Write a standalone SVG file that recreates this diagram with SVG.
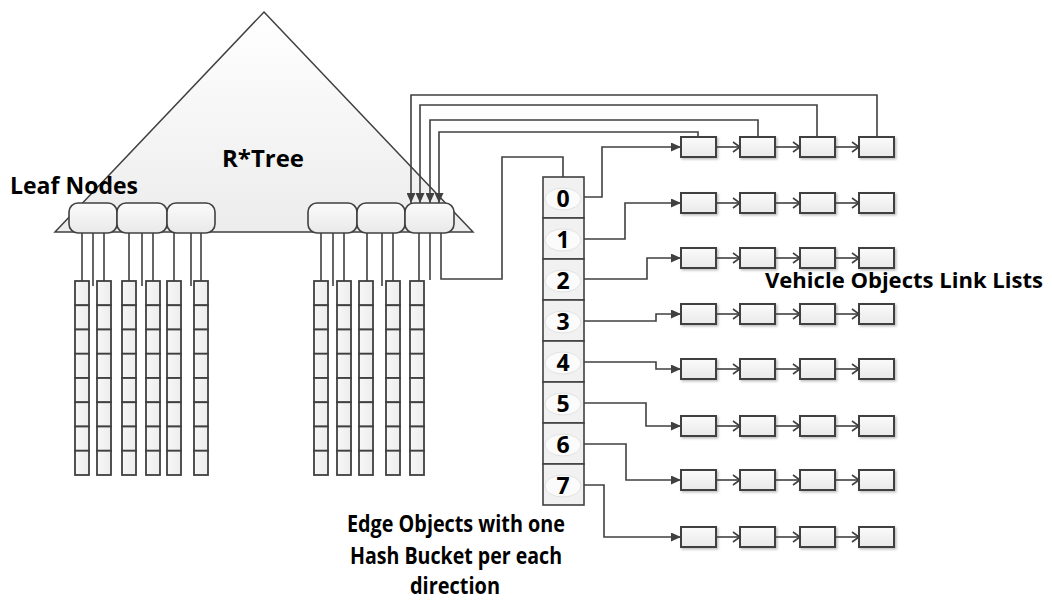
<svg xmlns="http://www.w3.org/2000/svg" width="1052" height="600" viewBox="0 0 1052 600">
<defs>
<linearGradient id="triG" x1="0" y1="0" x2="0" y2="1"><stop offset="0" stop-color="#ffffff"/><stop offset="1" stop-color="#ececec"/></linearGradient>
<linearGradient id="boxG" x1="0" y1="0" x2="0" y2="1"><stop offset="0" stop-color="#fbfbfb"/><stop offset="1" stop-color="#e9e9e9"/></linearGradient>
<linearGradient id="cellG" x1="0" y1="0" x2="1" y2="0"><stop offset="0" stop-color="#f7f7f7"/><stop offset="1" stop-color="#ededed"/></linearGradient>
<filter id="sh" x="-20%" y="-20%" width="150%" height="150%"><feDropShadow dx="1.5" dy="1.5" stdDeviation="0.8" flood-color="#000" flood-opacity="0.25"/></filter>
<marker id="af" markerUnits="userSpaceOnUse" markerWidth="10" markerHeight="9" refX="10" refY="4.5" orient="auto"><path d="M0,0 L10,4.5 L0,9 z" fill="#404040"/></marker>
<marker id="ao" markerUnits="userSpaceOnUse" markerWidth="10" markerHeight="12" refX="8" refY="6" orient="auto"><path d="M1,1 L8,6 L1,11" fill="none" stroke="#404040" stroke-width="1.6"/></marker>
<g id="col"><rect class="cl" x="-7" y="281" width="14" height="24.25"/><rect class="cl" x="-7" y="305.25" width="14" height="24.25"/><rect class="cl" x="-7" y="329.5" width="14" height="24.25"/><rect class="cl" x="-7" y="353.75" width="14" height="24.25"/><rect class="cl" x="-7" y="378" width="14" height="24.25"/><rect class="cl" x="-7" y="402.25" width="14" height="24.25"/><rect class="cl" x="-7" y="426.5" width="14" height="24.25"/><rect class="cl" x="-7" y="450.75" width="14" height="24.25"/></g>
<g id="row"><rect class="bx" x="681" y="0" width="35" height="20"/><rect class="bx" x="740" y="0" width="35" height="20"/><rect class="bx" x="800" y="0" width="35" height="20"/><rect class="bx" x="859" y="0" width="35" height="20"/><path class="ln" d="M716,10H740" marker-end="url(#ao)"/><path class="ln" d="M775,10H800" marker-end="url(#ao)"/><path class="ln" d="M835,10H859" marker-end="url(#ao)"/></g>
</defs>
<style>
.ln{fill:none;stroke:#404040;stroke-width:1.6}
.bx{fill:url(#boxG);stroke:#404040;stroke-width:2;filter:url(#sh)}
.cl{fill:url(#cellG);stroke:#404040;stroke-width:1.8}
.lf{fill:url(#boxG);stroke:#404040;stroke-width:1.6}
.bk{fill:#f1f1f1;stroke:#404040;stroke-width:1.6}
.el{fill:#fbfbfb;stroke:#e2e2e2;stroke-width:1}
.t{font-family:"Open Sans","Liberation Sans",sans-serif;font-weight:bold;font-size:23px;fill:#000}
.d{font-family:"Open Sans","Liberation Sans",sans-serif;font-weight:bold;font-size:23px;fill:#000;text-anchor:middle}
</style>

<g id="rtree">
<polygon points="264,12 473,232 55,232" fill="url(#triG)" stroke="#404040" stroke-width="1.5"/>
<text class="t" x="222" y="167" textLength="82" lengthAdjust="spacingAndGlyphs">R*Tree</text>
</g>
<text class="t" x="10" y="194" textLength="128" lengthAdjust="spacingAndGlyphs">Leaf Nodes</text>

<g id="leaf-lines" class="ln">
<path d="M82,233V281M93,233V286M104,233V281M129,233V281M142,233V286M153,233V281M174,233V281M191,233V286M201,233V281"/>
<path d="M321,233V281M333,233V286M344,233V281M367,233V281M382,233V286M393,233V281M419,233V281M430,233V280"/>
</g>

<g id="leaf-nodes">
<rect class="lf" x="69" y="203" width="48" height="30" rx="9"/>
<rect class="lf" x="117" y="203" width="50" height="30" rx="9"/>
<rect class="lf" x="167" y="203" width="48" height="30" rx="9"/>
<rect class="lf" x="308" y="203" width="49" height="30" rx="9"/>
<rect class="lf" x="357" y="203" width="48" height="30" rx="9"/>
<rect class="lf" x="405" y="203" width="49" height="30" rx="9"/>
</g>

<g id="edge-columns">
<use href="#col" x="82"/><use href="#col" x="104"/><use href="#col" x="129"/><use href="#col" x="153"/><use href="#col" x="174"/><use href="#col" x="201"/>
<use href="#col" x="321"/><use href="#col" x="344"/><use href="#col" x="366"/><use href="#col" x="393"/><use href="#col" x="417"/>
</g>

<g id="connectors" class="ln">
<path d="M441,233V279H502V157H563V177"/>
<path d="M877,137V95H411V203" marker-end="url(#af)"/>
<path d="M817,137V105H420V203" marker-end="url(#af)"/>
<path d="M758,137V120H430V203" marker-end="url(#af)"/>
<path d="M698,137V132H439V203" marker-end="url(#af)"/>
<path d="M584,197H602V147H681" marker-end="url(#af)"/>
<path d="M584,239H625V203H681" marker-end="url(#af)"/>
<path d="M584,279H647V258H681" marker-end="url(#af)"/>
<path d="M584,321H656V314H681" marker-end="url(#af)"/>
<path d="M584,362H656V369H681" marker-end="url(#af)"/>
<path d="M584,403H646V426H681" marker-end="url(#af)"/>
<path d="M584,444H626V480H681" marker-end="url(#af)"/>
<path d="M584,485H604V537H681" marker-end="url(#af)"/>
</g>

<g id="buckets">
<g id="bucket0"><rect class="bk" x="543" y="177" width="41" height="41"/><ellipse class="el" cx="563" cy="199" rx="18" ry="11"/><text class="d" x="563" y="207">0</text></g>
<g id="bucket1"><rect class="bk" x="543" y="218" width="41" height="41"/><ellipse class="el" cx="563" cy="240" rx="18" ry="11"/><text class="d" x="563" y="248">1</text></g>
<g id="bucket2"><rect class="bk" x="543" y="259" width="41" height="41"/><ellipse class="el" cx="563" cy="281" rx="18" ry="11"/><text class="d" x="563" y="289">2</text></g>
<g id="bucket3"><rect class="bk" x="543" y="300" width="41" height="41"/><ellipse class="el" cx="563" cy="322" rx="18" ry="11"/><text class="d" x="563" y="330">3</text></g>
<g id="bucket4"><rect class="bk" x="543" y="341" width="41" height="41"/><ellipse class="el" cx="563" cy="363" rx="18" ry="11"/><text class="d" x="563" y="371">4</text></g>
<g id="bucket5"><rect class="bk" x="543" y="382" width="41" height="41"/><ellipse class="el" cx="563" cy="404" rx="18" ry="11"/><text class="d" x="563" y="412">5</text></g>
<g id="bucket6"><rect class="bk" x="543" y="423" width="41" height="41"/><ellipse class="el" cx="563" cy="445" rx="18" ry="11"/><text class="d" x="563" y="453">6</text></g>
<g id="bucket7"><rect class="bk" x="543" y="464" width="41" height="41"/><ellipse class="el" cx="563" cy="486" rx="18" ry="11"/><text class="d" x="563" y="494">7</text></g>
</g>

<g id="lists">
<use href="#row" y="137"/><use href="#row" y="193"/><use href="#row" y="248"/><use href="#row" y="304"/>
<use href="#row" y="359"/><use href="#row" y="416"/><use href="#row" y="470"/><use href="#row" y="527"/>
</g>

<text class="t" x="765" y="288" style="font-size:21.5px" textLength="278" lengthAdjust="spacingAndGlyphs">Vehicle Objects Link Lists</text>
<g id="caption" class="t">
<text x="347" y="532" textLength="218" lengthAdjust="spacingAndGlyphs">Edge Objects with one</text>
<text x="350" y="564" textLength="212" lengthAdjust="spacingAndGlyphs">Hash Bucket per each</text>
<text x="410" y="594" textLength="90" lengthAdjust="spacingAndGlyphs">direction</text>
</g>
</svg>
